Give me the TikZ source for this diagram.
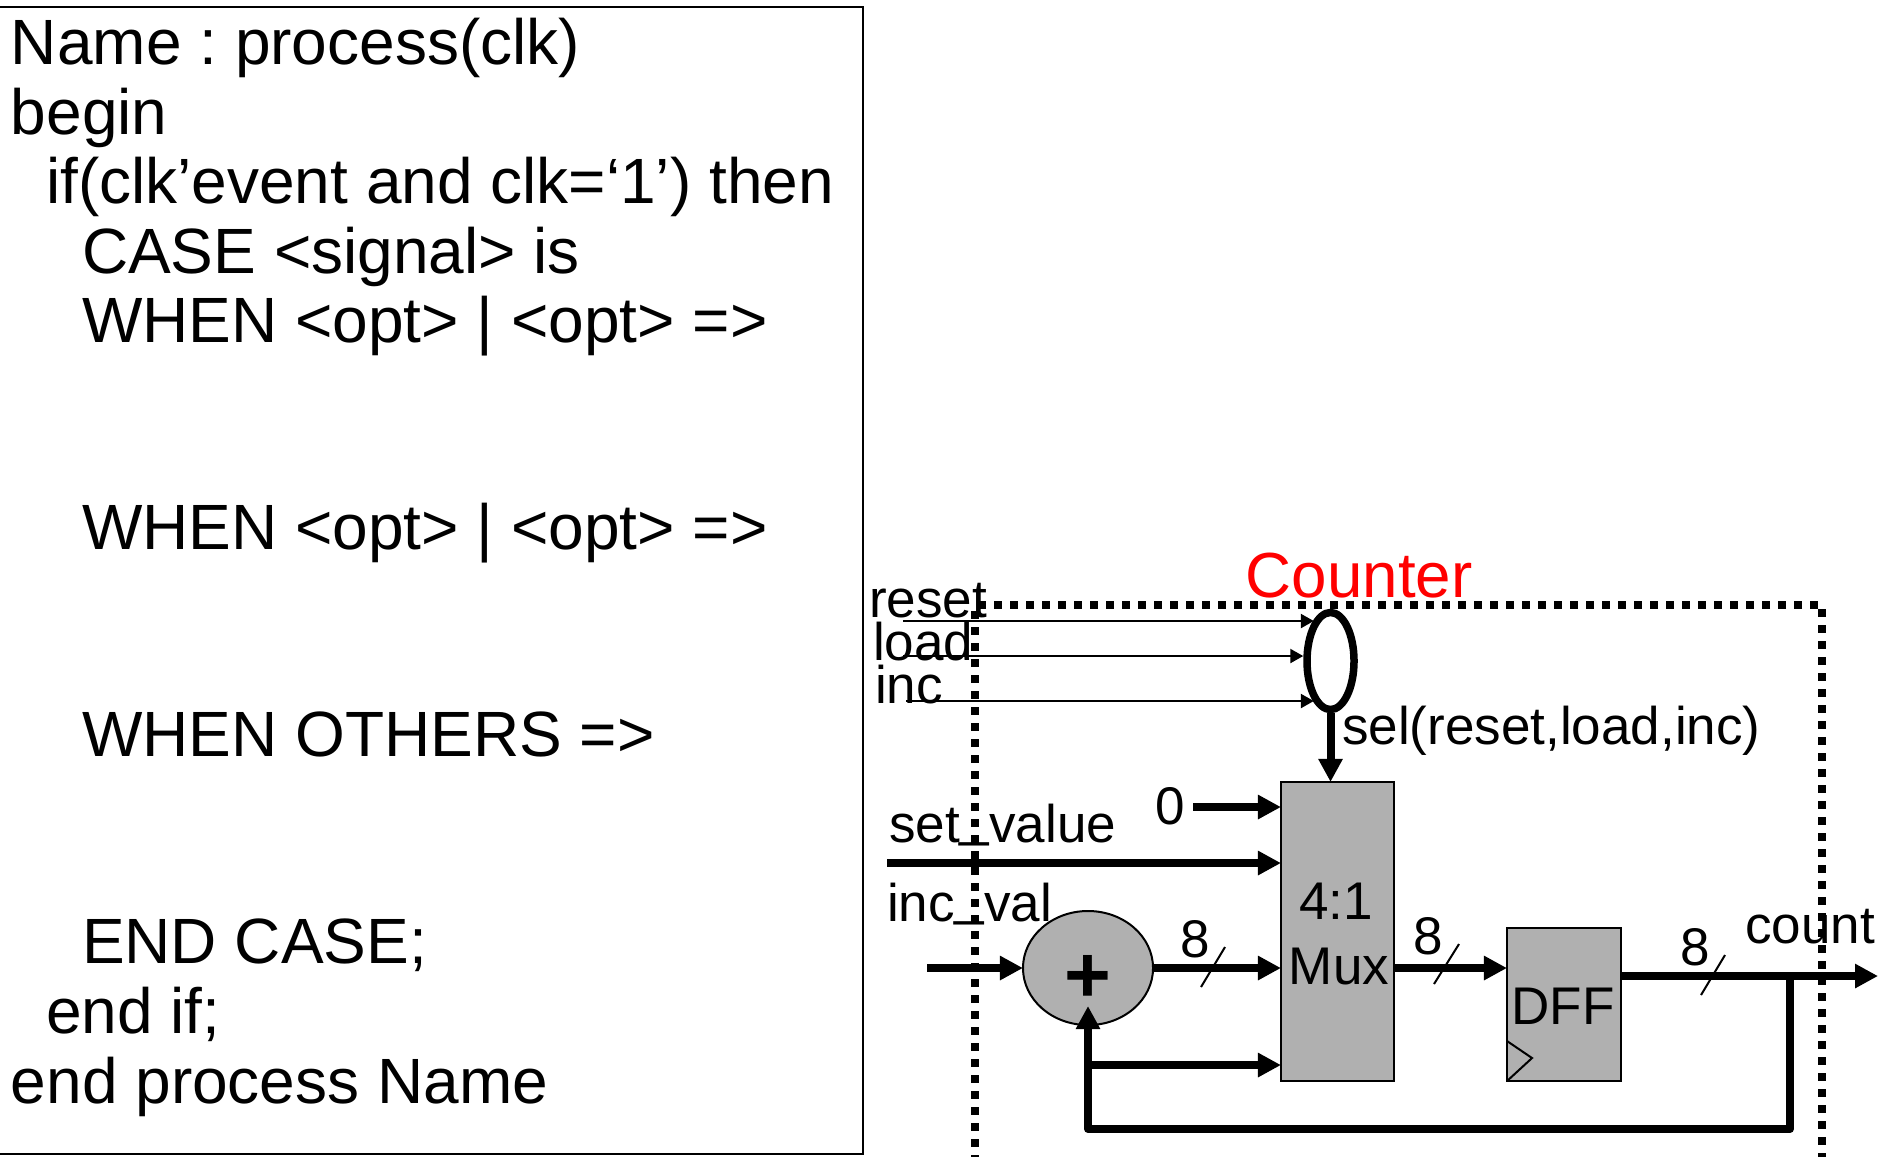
\documentclass[tikz,border=0pt]{standalone}
\usepackage{fontspec}
\setmainfont{Liberation Sans}
\usetikzlibrary{arrows.meta,shapes.geometric}
\newcommand{\liftbar}{\raisebox{0.13em}{\_}}
\tikzset{
  x=0.01cm,y=-0.01cm,
  codeline/.style={anchor=base west,inner sep=0pt,outer sep=0pt,font=\frenchspacing\fontsize{18.2}{20}\selectfont},
  sig/.style={anchor=base west,inner sep=0pt,outer sep=0pt,font=\fontsize{15.08}{17}\selectfont},
  width8/.style={anchor=base,inner sep=0pt,outer sep=0pt,font=\fontsize{15.08}{17}\selectfont},
  block/.style={draw=black,fill=blockgray,line width=0.02cm,inner sep=0pt,outer sep=0pt},
  bus/.style={line width=0.08cm,-{Triangle[length=0.23cm,width=0.23cm]},line join=round},
  thin wire/.style={line width=0.023cm,-{Triangle[length=0.13cm,width=0.14cm]}},
  slashmark/.style={line width=0.02cm},
  boundary/.style={line width=0.072cm,dash pattern=on 0.08cm off 0.08cm},
}
\definecolor{blockgray}{HTML}{B0B0B0}
\begin{document}
\begin{tikzpicture}
\useasboundingbox (0,0) rectangle (1889,1156);
% code box
\node[draw=black,line width=0.02cm,inner sep=0pt,outer sep=0pt,minimum width=8.65cm,minimum height=11.46cm,anchor=north west] (codebox) at (-3,7) {};
\node[codeline] (l1) at (11,64.5) {Name : process(clk)};
\node[codeline] (l2) at (11,134.5) {begin};
\node[codeline] (l3) at (46,203.5) {if(clk’event and clk=‘1’) then};
\node[codeline] (l4) at (82,273.5) {CASE <signal> is};
\node[codeline] (l5) at (82,342.5) {WHEN <opt> | <opt> =>};
\node[codeline] (l6) at (82,549.5) {WHEN <opt> | <opt> =>};
\node[codeline] (l7) at (82,756.5) {WHEN OTHERS =>};
\node[codeline] (l8) at (82,963.5) {END CASE;};
\node[codeline] (l9) at (46,1033.5) {end if;};
\node[codeline] (l10) at (11,1103.5) {end process Name};
\begin{scope}[yshift=-0.01cm]
% boundary
\coordinate (bA) at (975,1156);
\coordinate (bD) at (1822,1156);
\draw[boundary] (975,610) -- (bA);
\draw[boundary] (1818,604) -- (975,604);
\draw[boundary] (1822,608) -- (bD);
% blocks
\node[block,minimum width=1.13cm,minimum height=2.99cm] (mux) at (1337.5,930.5) {};
\node[block,minimum width=1.14cm,minimum height=1.53cm] (dff) at (1564,1003.5) {};
\node[block,shape=ellipse,minimum width=1.30cm,minimum height=1.14cm] (add) at (1088,967) {};
\node[draw=black,line width=0.075cm,shape=ellipse,inner sep=0pt,minimum width=0.47cm,minimum height=0.97cm] (sel) at (1330.5,660) {};
\node[anchor=base,inner sep=0pt,font=\fontsize{15.08}{17}\selectfont] (m1) at (1336,918) {4:1};
\node[anchor=base,inner sep=0pt,font=\fontsize{15.08}{17}\selectfont] (m2) at (1339,983) {Mux};
\node[anchor=base,inner sep=0pt,font=\fontsize{15.08}{17}\selectfont] (d1) at (1563,1023) {DFF};
\node[anchor=base,inner sep=0pt,font=\bfseries\fontsize{22.8}{25}\selectfont] (plus) at (1088,1001) {+};
% clock triangle
\coordinate (t1) at (1507,1040);
\coordinate (t2) at (1532,1057);
\coordinate (t3) at (1507,1080);
\draw[slashmark,line join=miter] (t1) -- (t2) -- (t3);
% labels
\node[anchor=base west,inner sep=0pt,text=red,font=\fontsize{18.12}{20}\selectfont] (title) at (1245,596) {Counter};
\node[sig] (reset) at (869,616) {reset};
\node[sig] (load) at (873,659) {load};
\node[sig] (inc) at (875,702) {inc};
\node[sig] (seltxt) at (1342,743) {sel(reset,load,inc)};
\node[width8] (zero) at (1170,823) {0};
\node[sig] (setv) at (889,841) {set\liftbar value};
\node[sig] (incv) at (887,920) {inc\liftbar val};
\node[width8] (w1) at (1195,956) {8};
\node[width8] (w2) at (1428,953) {8};
\node[width8] (w3) at (1695,964) {8};
\node[sig] (cnt) at (1745,942) {count};
% free ends
\coordinate (rA) at (903,620);
\coordinate (lA) at (903,655);
\coordinate (iA) at (906,700);
\coordinate (zA) at (1193,806);
\coordinate (sA) at (887,862);
\coordinate (vA) at (927,967);
\coordinate (oE) at (1878,975);
\coordinate (fb) at (1790,975);
\coordinate (fbB) at (1790,1128);
\coordinate (fbC) at (1088,1128);
\coordinate (br) at (1088,1064);
\coordinate (fbT) at (1088,1005);
\coordinate (muxout) at (1395,967);
% thin inputs
\draw[thin wire] (rA) -- (rA -| sel.112);
\draw[thin wire] (lA) -- (lA -| sel.west);
\draw[thin wire] (iA) -- (iA -| sel.248);
% buses
\draw[bus] (sel.south) -- (sel.south |- mux.north);
\draw[bus] (zA) -- (zA -| mux.west);
\draw[bus] (sA) -- (sA -| mux.west);
\draw[bus] (vA) -- (add.west);
\draw[bus] (add.east) -- (add.east -| mux.west);
\draw[bus] (muxout) -- (muxout -| dff.west);
\draw[bus] (dff.east |- oE) -- (oE);
\draw[bus] (fb) -- (fbB) -- (fbC) -- (fbT);
\draw[bus] (br) -- (br -| mux.west);
% width slashes
\coordinate (s1a) at (1201,986); \coordinate (s1b) at (1225,946);
\coordinate (s2a) at (1434,983); \coordinate (s2b) at (1459,943);
\coordinate (s3a) at (1701,994); \coordinate (s3b) at (1725,954);
\draw[slashmark] (s1a) -- (s1b);
\draw[slashmark] (s2a) -- (s2b);
\draw[slashmark] (s3a) -- (s3b);
\end{scope}
\end{tikzpicture}
\end{document}
